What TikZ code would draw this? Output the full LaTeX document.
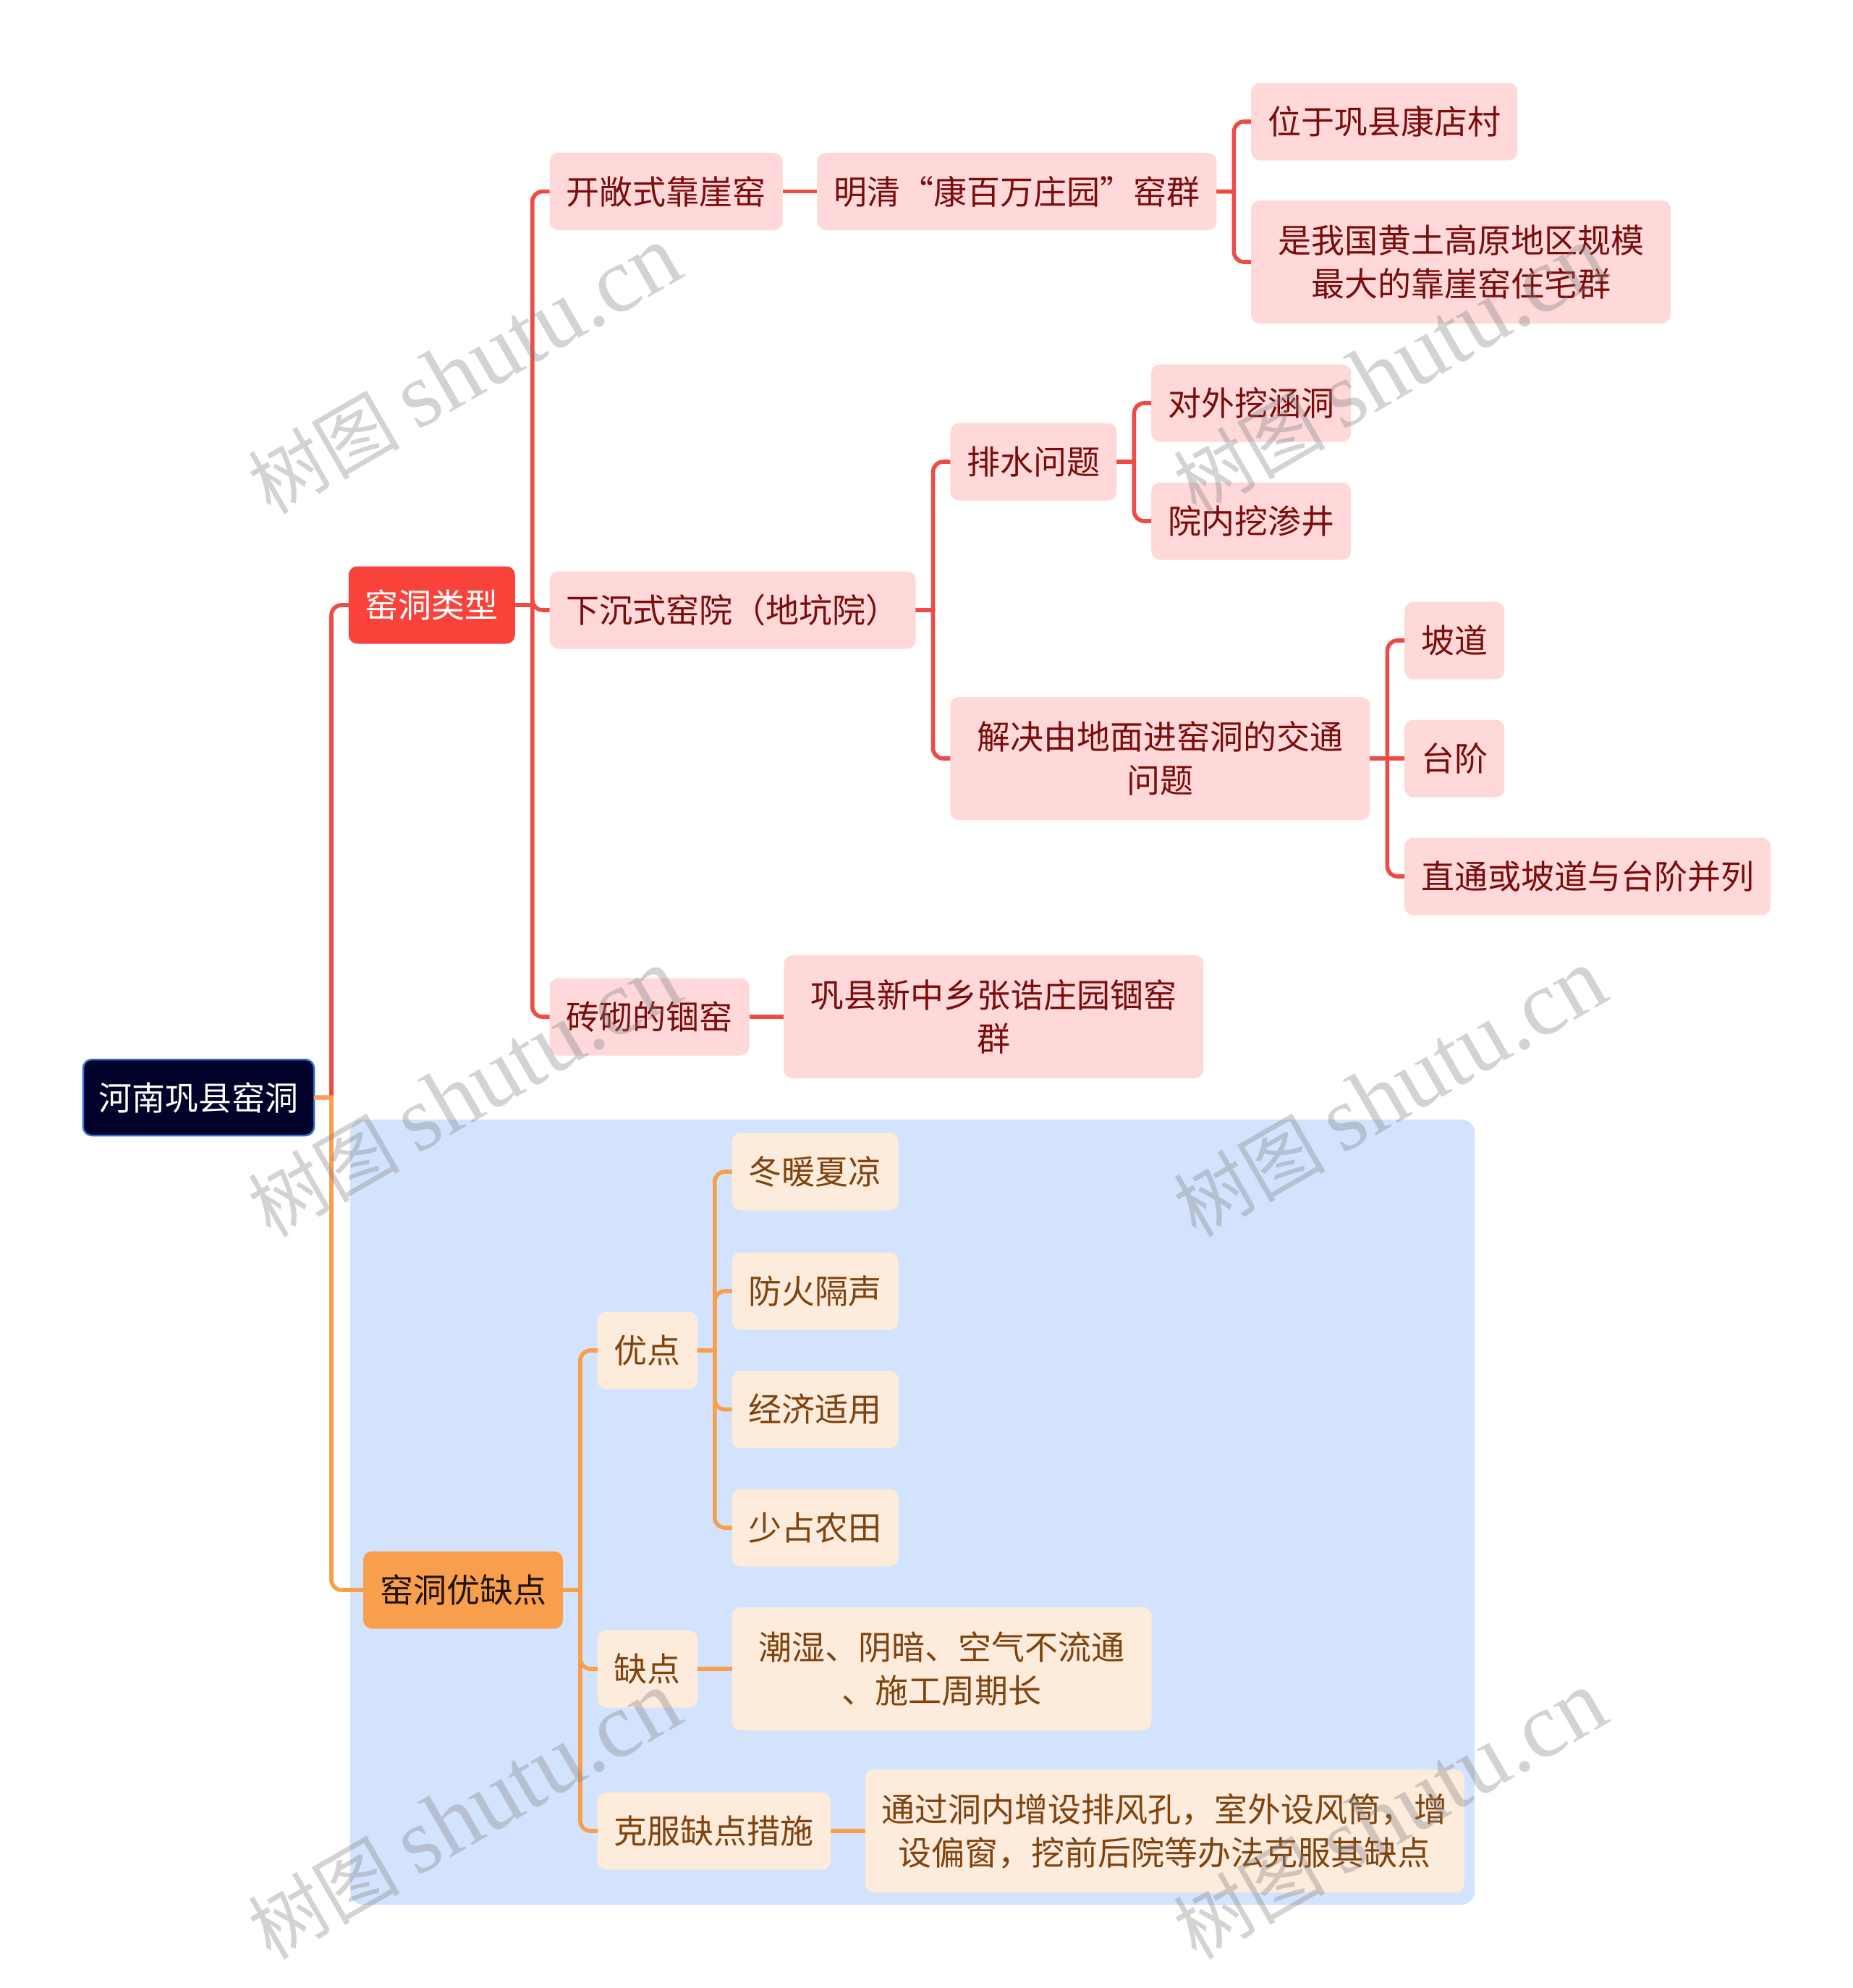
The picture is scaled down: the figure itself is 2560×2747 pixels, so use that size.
\documentclass[tikz,border=0pt]{standalone}
\usepackage{fontspec}
\setmainfont{Noto Sans CJK SC}
\newfontfamily\wmfont{Liberation Serif}
\usetikzlibrary{positioning}
\definecolor{rootfill}{HTML}{000229}
\definecolor{rootline}{HTML}{2F6FD0}
\definecolor{redmain}{HTML}{F9423A}
\definecolor{redwire}{HTML}{EF4A44}
\definecolor{redleaf}{HTML}{FFD9D9}
\definecolor{redtext}{HTML}{7A0C0C}
\definecolor{orgmain}{HTML}{F79F4C}
\definecolor{orgleaf}{HTML}{FDEBDC}
\definecolor{orgtext}{HTML}{7F430F}
\definecolor{panel}{HTML}{D3E3FD}
\begin{document}
\begin{tikzpicture}[x=1pt, y=1pt, node distance=47.8pt,
		box/.style={rounded corners=12pt, outer sep=0pt, inner xsep=23pt, inner ysep=0pt, minimum height=107pt, align=center, font=\fontsize{46}{60}\selectfont},
		rootbox/.style={box, fill=rootfill, draw=rootline, line width=2.5pt, inner xsep=21.5pt, minimum height=105pt, text=white},
		redbox/.style={box, fill=redmain, text=white},
		rbox/.style={box, fill=redleaf, text=redtext},
		orgbox/.style={box, fill=orgmain, text=black!75!orgtext},
		obox/.style={box, fill=orgleaf, text=orgtext},
		tall/.style={minimum height=170pt},
		wide/.style={tall, minimum width=580pt},
		elbow/.style={line width=5.6pt, to path={-- ++(26.8pt,0) ++(-2.8pt,0) [rounded corners=14pt] |- (\tikztotarget) \tikztonodes}},
		redline/.style={elbow, draw=redwire},
		orgline/.style={elbow, draw=orgmain},
		wmark/.style={rotate=30, text=gray, opacity=.35}]
	\useasboundingbox (0,0) rectangle (2560,-2747);
	\fill[panel, rounded corners=18pt] (484,-1547) rectangle (2038,-2632);
	\node[rootbox, anchor=west] (root) at (115,-1516.5) {河南巩县窑洞};
	\node[redbox] (types) [right=of root, yshift=680.5pt] {窑洞类型};
	\node[rbox] (cliff) [right=of types, yshift=571.4pt] {开敞式靠崖窑};
	\node[rbox] (kang) [right=of cliff] {明清“康百万庄园”窑群};
	\node[rbox] (place) [right=of kang, yshift=96.6pt] {位于巩县康店村};
	\node[rbox, wide] (largest) [right=of kang, yshift=-97.4pt] {是我国黄土高原地区规模\\最大的靠崖窑住宅群};
	\node[rbox] (sunken) [right=of types, yshift=-7pt] {下沉式窑院（地坑院）};
	\node[rbox] (drain) [right=of sunken, yshift=205pt] {排水问题};
	\node[rbox] (culvert) [right=of drain, yshift=81pt] {对外挖涵洞};
	\node[rbox] (well) [right=of drain, yshift=-82pt] {院内挖渗井};
	\node[rbox, wide] (access) [right=of sunken, yshift=-205pt] {解决由地面进窑洞的交通\\问题};
	\node[rbox] (ramp) [right=of access, yshift=163pt] {坡道};
	\node[rbox] (steps) [right=of access] {台阶};
	\node[rbox] (direct) [right=of access, yshift=-163pt] {直通或坡道与台阶并列};
	\node[rbox] (brick) [right=of types, yshift=-569pt] {砖砌的锢窑};
	\node[rbox, wide] (zhang) [right=of brick] {巩县新中乡张诰庄园锢窑\\群};
	\node[orgbox] (merits) [right=68pt of root, yshift=-680.5pt] {窑洞优缺点};
	\node[obox] (pros) [right=of merits, yshift=331pt] {优点};
	\node[obox] (warm) [right=of pros, yshift=247pt] {冬暖夏凉};
	\node[obox] (fire) [right=of pros, yshift=82pt] {防火隔声};
	\node[obox] (cheap) [right=of pros, yshift=-81.5pt] {经济适用};
	\node[obox] (land) [right=of pros, yshift=-245pt] {少占农田};
	\node[obox] (cons) [right=of merits, yshift=-109pt] {缺点};
	\node[obox, wide] (damp) [right=of cons] {潮湿、阴暗、空气不流通\\、施工周期长};
	\node[obox] (fixes) [right=of merits, yshift=-333pt] {克服缺点措施};
	\node[obox, tall] (vent) [right=of fixes] {通过洞内增设排风孔，室外设风筒，增\\设偏窗，挖前后院等办法克服其缺点};
	\draw[redline] (root.east) edge (types.west);
	\draw[orgline] (root.east) edge (merits.west);
	\draw[redline] (types.east) edge (cliff.west) edge (sunken.west) edge (brick.west);
	\draw[redline, line to] (cliff.east) edge (kang.west);
	\draw[redline] (kang.east) edge (place.west) edge (largest.west);
	\draw[redline] (sunken.east) edge (drain.west) edge (access.west);
	\draw[redline] (drain.east) edge (culvert.west) edge (well.west);
	\draw[redline] (access.east) edge (ramp.west) edge[line to] (steps.west) edge (direct.west);
	\draw[redline, line to] (brick.east) edge (zhang.west);
	\draw[orgline] (merits.east) edge (pros.west) edge (cons.west) edge (fixes.west);
	\draw[orgline] (pros.east) edge (warm.west) edge (fire.west) edge (cheap.west) edge (land.west);
	\draw[orgline, line to] (cons.east) edge (damp.west);
	\draw[orgline, line to] (fixes.east) edge (vent.west);
	\node[wmark] (wm1) at (642,-512) {\fontsize{105}{105}\selectfont 树图 \fontsize{128}{128}\wmfont shutu.cn};
	\node[wmark] (wm2) at (1921,-512) {\fontsize{105}{105}\selectfont 树图 \fontsize{128}{128}\wmfont shutu.cn};
	\node[wmark] (wm3) at (642,-1511) {\fontsize{105}{105}\selectfont 树图 \fontsize{128}{128}\wmfont shutu.cn};
	\node[wmark] (wm4) at (1921,-1511) {\fontsize{105}{105}\selectfont 树图 \fontsize{128}{128}\wmfont shutu.cn};
	\node[wmark] (wm5) at (642,-2509) {\fontsize{105}{105}\selectfont 树图 \fontsize{128}{128}\wmfont shutu.cn};
	\node[wmark] (wm6) at (1921,-2509) {\fontsize{105}{105}\selectfont 树图 \fontsize{128}{128}\wmfont shutu.cn};
\end{tikzpicture}
\end{document}
